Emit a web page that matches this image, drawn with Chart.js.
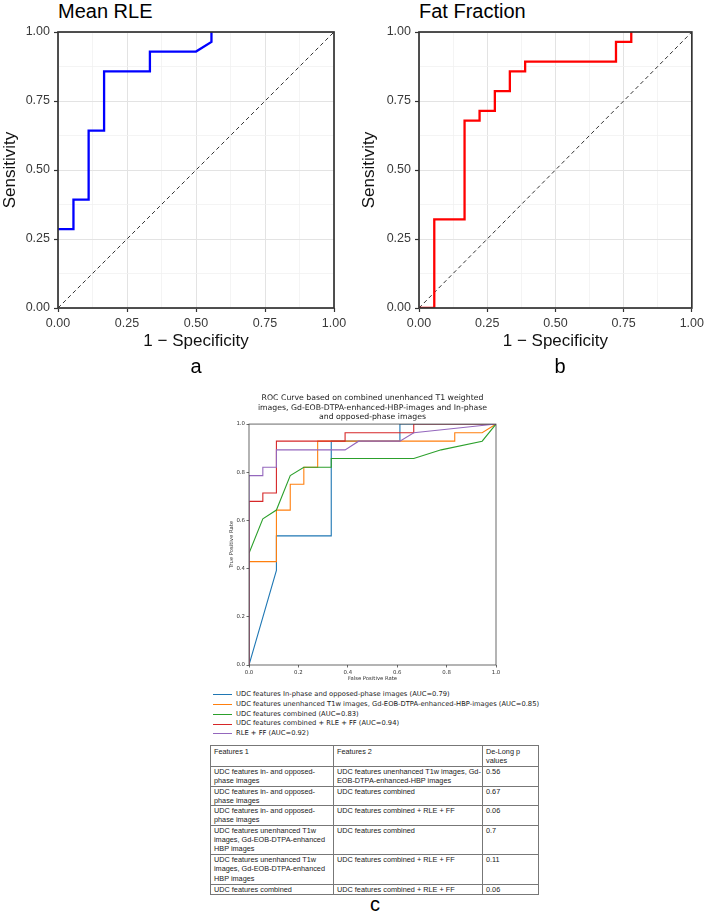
<!DOCTYPE html>
<html>
<head>
<meta charset="utf-8">
<script src="https://cdn.jsdelivr.net/npm/chart.js@4.4.0/dist/chart.umd.min.js"></script>
<style>
  body { margin: 0; background: #fff; width: 708px; height: 918px; position: relative; overflow: hidden; font-family: "Liberation Sans", Arial, sans-serif; color: #000; }
  canvas { position: absolute; }
  .ptitle { position: absolute; font-size: 20px; line-height: 22px; white-space: nowrap; }
  .letter { position: absolute; font-size: 20px; line-height: 22px; width: 30px; text-align: center; }
  #legendC { position: absolute; left: 213px; top: 690px; font-family: "DejaVu Sans", sans-serif; font-size: 6.75px; line-height: 9.75px; color: #222; white-space: nowrap; }
  #legendC .row { display: flex; align-items: center; height: 9.75px; }
  #legendC .swatch { width: 19px; height: 0; border-top: 1px solid; margin-right: 4px; }
  #pTable { position: absolute; left: 210px; top: 745px; width: 328px; border-collapse: collapse; table-layout: fixed; font-size: 7.3px; line-height: 9.3px; color: #222; }
  #pTable td { border: 1px solid #777; vertical-align: top; padding: 0 3px; overflow: hidden; white-space: nowrap; box-sizing: border-box; }
</style>
</head>
<body>

<div class="ptitle" style="left:58px; top:0px">Mean RLE</div>
<div class="ptitle" style="left:419px; top:0px">Fat Fraction</div>
<canvas id="chartA" width="354" height="380" style="left:0; top:0"></canvas>
<canvas id="chartB" width="354" height="380" style="left:354px; top:0"></canvas>
<div class="letter" style="left:181px; top:355px">a</div>
<div class="letter" style="left:545px; top:355px">b</div>

<canvas id="chartC" width="320" height="300" style="left:200px; top:385px"></canvas>
<div id="legendC"></div>

<table id="pTable">
  <colgroup><col style="width:123px"><col style="width:149px"><col style="width:56px"></colgroup>
  <tr style="height:21px"><td style="padding-top:1px">Features 1</td><td style="padding-top:1px">Features 2</td><td style="padding-top:1px">De-Long p<br>values</td></tr>
  <tr style="height:19.5px"><td>UDC features in- and opposed-<br>phase images</td><td>UDC features unenhanced T1w images, Gd-<br>EOB-DTPA-enhanced-HBP images</td><td>0.56</td></tr>
  <tr style="height:19.5px"><td>UDC features in- and opposed-<br>phase images</td><td>UDC features combined</td><td>0.67</td></tr>
  <tr style="height:19.5px"><td>UDC features in- and opposed-<br>phase images</td><td>UDC features combined + RLE + FF</td><td>0.06</td></tr>
  <tr style="height:29.3px"><td>UDC features unenhanced T1w<br>images, Gd-EOB-DTPA-enhanced<br>HBP images</td><td>UDC features combined</td><td>0.7</td></tr>
  <tr style="height:29.7px"><td>UDC features unenhanced T1w<br>images, Gd-EOB-DTPA-enhanced<br>HBP images</td><td>UDC features combined + RLE + FF</td><td>0.11</td></tr>
  <tr style="height:9.5px"><td>UDC features combined</td><td>UDC features combined + RLE + FF</td><td>0.06</td></tr>
</table>
<div class="letter" style="left:360px; top:893px">c</div>

<script>
// ---- data: panel a (Mean RLE) ----
const rleFpr = [0, 0.056, 0.056, 0.111, 0.111, 0.167, 0.167, 0.333, 0.333, 0.5, 0.556, 0.556];
const rleTpr = [0.286, 0.286, 0.393, 0.393, 0.643, 0.643, 0.857, 0.857, 0.929, 0.929, 0.964, 1];

// ---- data: panel b (Fat Fraction) ----
const ffFpr = [0, 0.056, 0.056, 0.167, 0.167, 0.222, 0.222, 0.278, 0.278, 0.333, 0.333, 0.389, 0.389, 0.722, 0.722, 0.778, 0.778];
const ffTpr = [0, 0, 0.321, 0.321, 0.679, 0.679, 0.714, 0.714, 0.786, 0.786, 0.857, 0.857, 0.893, 0.893, 0.964, 0.964, 1];

// chance line
const diagX = [0, 1];
const diagY = [0, 1];

// tick positions / labels for a and b (minor grid every 0.125)
const topGridVals = [0, 0.125, 0.25, 0.375, 0.5, 0.625, 0.75, 0.875, 1];
const topTickVals = [0, 0.25, 0.5, 0.75, 1];
const topTickLabels = ['0.00', '0.25', '0.50', '0.75', '1.00'];

// ---- data: panel c ----
const cTitle = ['ROC Curve based on combined unenhanced T1 weighted',
                'images, Gd-EOB-DTPA-enhanced-HBP-images and In-phase',
                'and opposed-phase images'];
const cLabels = ['UDC features In-phase and opposed-phase images (AUC=0.79)',
                 'UDC features unenhanced T1w images, Gd-EOB-DTPA-enhanced-HBP-images (AUC=0.85)',
                 'UDC features combined (AUC=0.83)',
                 'UDC features combined + RLE + FF (AUC=0.94)',
                 'RLE + FF (AUC=0.92)'];
const cColors = ['#1f77b4', '#ff7f0e', '#2ca02c', '#d62728', '#9467bd'];

const inoppFpr = [0, 0.111, 0.111, 0.333, 0.333, 0.611, 0.611, 1];
const inoppTpr = [0, 0.393, 0.536, 0.536, 0.929, 0.929, 1, 1];
const t1wFpr = [0, 0, 0.111, 0.111, 0.167, 0.167, 0.222, 0.222, 0.278, 0.278, 0.833, 0.833, 0.944, 1];
const t1wTpr = [0, 0.429, 0.429, 0.643, 0.643, 0.75, 0.75, 0.821, 0.821, 0.929, 0.929, 0.964, 0.964, 1];
const combFpr = [0, 0, 0.056, 0.111, 0.167, 0.222, 0.333, 0.333, 0.667, 0.778, 0.944, 1];
const combTpr = [0, 0.464, 0.607, 0.643, 0.786, 0.821, 0.821, 0.857, 0.857, 0.893, 0.929, 1];
const combRfFpr = [0, 0, 0.056, 0.056, 0.111, 0.111, 0.389, 0.389, 0.667, 0.667, 1];
const combRfTpr = [0, 0.679, 0.679, 0.714, 0.714, 0.929, 0.929, 0.964, 0.964, 1, 1];
const rfFpr = [0, 0, 0.056, 0.056, 0.111, 0.111, 0.389, 0.444, 0.611, 0.667, 1];
const rfTpr = [0, 0.786, 0.786, 0.821, 0.821, 0.893, 0.893, 0.929, 0.929, 0.964, 1];

const cTickVals = [0, 0.2, 0.4, 0.6, 0.8, 1];
const cTickLabels = ['0.0', '0.2', '0.4', '0.6', '0.8', '1.0'];

function toPoints(xs, ys) {
    return xs.map((x, i) => ({ x: x, y: ys[i] }));
}

function labelFor(value, vals, labels) {
    const i = vals.findIndex(v => Math.abs(v - value) < 1e-6);
    return i >= 0 ? labels[i] : '';
}

// frame around the plotting area (ggplot / matplotlib style box)
const panelBorder = {
    id: 'panelBorder',
    afterDraw(chart, args, opts) {
        const { ctx, chartArea: a } = chart;
        ctx.save();
        ctx.strokeStyle = opts.color;
        ctx.lineWidth = opts.width;
        ctx.strokeRect(a.left, a.top, a.right - a.left, a.bottom - a.top);
        ctx.restore();
    }
};

function isMajor(v) {
    return topTickVals.some(t => Math.abs(t - v) < 1e-6);
}

function topAxis(titleText, fitFn) {
    return {
        type: 'linear', min: 0, max: 1,
        afterBuildTicks: s => { s.ticks = topGridVals.map(v => ({ value: v })); },
        afterFit: fitFn,
        grid: {
            color: c => (c.tick && isMajor(c.tick.value)) ? '#e3e3e3' : '#f1f1f1',
            lineWidth: c => (c.tick && isMajor(c.tick.value)) ? 1 : 0.8,
            tickColor: c => (c.tick && isMajor(c.tick.value)) ? '#333' : 'rgba(0,0,0,0)',
            tickLength: 4,
            tickWidth: 1.2
        },
        border: { display: false },
        ticks: {
            autoSkip: false, maxRotation: 0, padding: 4,
            color: '#3a3a3a',
            font: { family: '"Liberation Sans", Arial, sans-serif', size: 12.5 },
            callback: v => labelFor(v, topTickVals, topTickLabels)
        },
        title: {
            display: true, text: titleText, padding: 0, color: '#111',
            font: { family: '"Liberation Sans", Arial, sans-serif', size: 17 }
        }
    };
}

function topChart(id, fpr, tpr, color, padLeft, yWidth, padRight) {
    return new Chart(document.getElementById(id), {
        type: 'scatter',
        data: {
            datasets: [
                { data: toPoints(fpr, tpr), showLine: true, borderColor: color, borderWidth: 2.3, pointRadius: 0, tension: 0 },
                { data: toPoints(diagX, diagY), showLine: true, borderColor: '#333', borderWidth: 1, borderDash: [4, 3], pointRadius: 0 }
            ]
        },
        options: {
            responsive: false,
            animation: false,
            layout: { padding: { left: padLeft, top: 32, right: padRight, bottom: 28 } },
            plugins: {
                legend: { display: false },
                tooltip: { enabled: false },
                panelBorder: { color: '#333', width: 1.7 }
            },
            scales: {
                x: topAxis('1 \u2212 Specificity', s => { s.height = 44; }),
                y: topAxis('Sensitivity', s => { s.width = yWidth; })
            }
        },
        plugins: [panelBorder]
    });
}

topChart('chartA', rleFpr, rleTpr, '#0000ff', 0, 58, 20);
topChart('chartB', ffFpr, ffTpr, '#ff0000', 5, 60, 14);

// ---- panel c ----
const cSeries = [
    toPoints(inoppFpr, inoppTpr),
    toPoints(t1wFpr, t1wTpr),
    toPoints(combFpr, combTpr),
    toPoints(combRfFpr, combRfTpr),
    toPoints(rfFpr, rfTpr)
];

function cAxis(titleText, fitFn) {
    return {
        type: 'linear', min: 0, max: 1,
        afterBuildTicks: s => { s.ticks = cTickVals.map(v => ({ value: v })); },
        afterFit: fitFn,
        grid: { drawOnChartArea: false, tickLength: 2.5, tickColor: '#444', tickWidth: 0.8 },
        border: { display: false },
        ticks: {
            autoSkip: false, maxRotation: 0, padding: 1.5, color: '#333',
            font: { family: '"DejaVu Sans", sans-serif', size: 5.4 },
            callback: v => labelFor(v, cTickVals, cTickLabels)
        },
        title: {
            display: true, text: titleText, padding: 0, color: '#333',
            font: { family: '"DejaVu Sans", sans-serif', size: 5.3 }
        }
    };
}

const chartC = new Chart(document.getElementById('chartC'), {
    type: 'scatter',
    data: {
        datasets: cSeries.map((pts, i) => ({
            label: cLabels[i],
            data: pts,
            showLine: true,
            borderColor: cColors[i],
            borderWidth: 1.1,
            pointRadius: 0,
            tension: 0,
            order: cSeries.length - i   // later series drawn on top, like matplotlib
        }))
    },
    options: {
        responsive: false,
        animation: false,
        layout: { padding: { left: 28.8, top: 0, right: 24, bottom: 3 } },
        plugins: {
            legend: { display: false },
            tooltip: { enabled: false },
            title: {
                display: true, text: cTitle, fullSize: false, color: '#222',
                font: { family: '"DejaVu Sans", sans-serif', size: 7.75, weight: 'normal', lineHeight: 1.25 },
                padding: { top: 8, bottom: 2 }
            },
            panelBorder: { color: '#444', width: 0.8 }
        },
        scales: {
            x: cAxis('False Positive Rate', s => { s.height = 17; }),
            y: cAxis('True Positive Rate', s => { s.width = 20.2; })
        }
    },
    plugins: [panelBorder]
});

// legend below panel c, built from the chart's datasets
const legendC = document.getElementById('legendC');
chartC.data.datasets.forEach(ds => {
    const row = document.createElement('div');
    row.className = 'row';
    const sw = document.createElement('span');
    sw.className = 'swatch';
    sw.style.borderTopColor = ds.borderColor;
    const txt = document.createElement('span');
    txt.textContent = ds.label;
    row.appendChild(sw);
    row.appendChild(txt);
    legendC.appendChild(row);
});
</script>
</body>
</html>
